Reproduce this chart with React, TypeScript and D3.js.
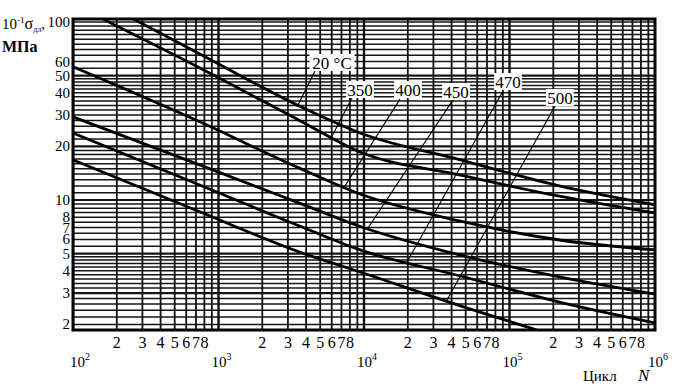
import React from 'react';
import * as d3 from 'd3';

// Curves: N (cycles) and 10^-1 * sigma (MPa)
const n20 = [260, 750, 3600, 9400, 46000, 220000, 1000000];
const s20 = [104, 66, 33.7, 23.8, 16.8, 12.0, 9.4];
const n350 = [160, 750, 3600, 9400, 46000, 220000, 1000000];
const s350 = [104, 55, 28, 18.6, 13.8, 10.5, 8.45];
const n400 = [100, 750, 3600, 9400, 46000, 220000, 1000000];
const s400 = [56, 27.4, 15.1, 10.8, 7.6, 5.96, 5.24];
const n450 = [100, 750, 3600, 9400, 46000, 220000, 1000000];
const s450 = [29.3, 15.7, 9.6, 7.1, 4.9, 3.7, 2.96];
const n470 = [100, 750, 3600, 9400, 46000, 220000, 1000000];
const s470 = [23.8, 12.1, 7.14, 5.24, 3.74, 2.67, 2.04];
const n500 = [100, 750, 3600, 9400, 46000, 155000];
const s500 = [16.8, 8.56, 5.1, 3.94, 2.54, 1.86];

const labels = ['20 °C', '350', '400', '450', '470', '500'];
const labelN = [6030, 9390, 20070, 42900, 97600, 222000];
const labelS = [58.9, 41.5, 41.5, 40.4, 46.0, 37.4];
const leadFromN = [4606, 8270, 17680, 40900, 90220, 205400];
const leadFromS = [53.0, 37.4, 36.9, 36.5, 41.0, 33.7];
const leadToN = [3463, 5840, 7404, 10650, 19750, 37190];
const leadToS = [33.3, 21.7, 12.0, 6.96, 4.48, 2.74];

const yTicks = [2, 3, 4, 5, 6, 7, 8, 10, 20, 30, 40, 50, 60, 100];
const xDecades = [100, 1000, 10000, 100000, 1000000];
const xDecadeExp = ['2', '3', '4', '5', '6'];
const xMinorDigits = [2, 3, 4, 5, 6, 7, 8];

const L = 73, R = 655, T = 19, B = 330;
const SERIF = "'Liberation Serif', 'Times New Roman', Tinos, 'DejaVu Serif', serif";

export default function App() {
  const x = d3.scaleLog().domain([100, 1000000]).range([L, R]);
  const y = d3.scaleLog().domain([1.86, 104]).range([B, T]);

  const hGrid = [
    ...d3.range(2, 5, 0.2),
    ...d3.range(5, 10, 0.5),
    ...d3.range(10, 20, 1),
    ...d3.range(20, 50, 2),
    ...d3.range(50, 100.01, 5),
  ];
  const vGrid: number[] = [];
  xDecades.slice(0, 4).forEach((d) => {
    for (let k = 1; k <= 9; k++) vGrid.push(k * d);
  });

  const series = [
    [n20, s20], [n350, s350], [n400, s400], [n450, s450], [n470, s470], [n500, s500],
  ];
  const line = d3
    .line<[number, number]>()
    .x((d) => x(d[0]))
    .y((d) => y(d[1]))
    .curve(d3.curveMonotoneX);

  const ts = { fontFamily: SERIF };

  return (
    <svg
      width={680}
      height={392}
      style={{ position: 'absolute', left: 0, top: 0, background: '#fff', fontFamily: SERIF }}
    >
      <defs>
        <clipPath id="plot">
          <rect x={L} y={T} width={R - L} height={B - T} />
        </clipPath>
      </defs>
      <g clipPath="url(#plot)">
        {hGrid.map((v, i) => (
          <line key={'h' + i} x1={L} x2={R} y1={y(v)} y2={y(v)} stroke="#151515"
            strokeWidth={[10, 20, 50, 5, 3].includes(Math.round(v * 10) / 10) ? 2.2 : 1.5} />
        ))}
        {vGrid.map((v, i) => (
          <line key={'v' + i} x1={x(v)} x2={x(v)} y1={T} y2={B} stroke="#111"
            strokeWidth={i % 9 === 0 ? 2.4 : 1.8} />
        ))}
        {series.map(([ns, ss], i) => (
          <path key={'c' + i}
            d={line(ns.map((n, j) => [n, ss[j]] as [number, number])) || ''}
            fill="none" stroke="#000" strokeWidth={2.8} />
        ))}
        {labels.map((_, i) => (
          <line key={'l' + i} x1={x(leadFromN[i])} y1={y(leadFromS[i])}
            x2={x(leadToN[i])} y2={y(leadToS[i])} stroke="#000" strokeWidth={1.1} />
        ))}
      </g>
      <rect x={L} y={T} width={R - L} height={B - T} fill="none" stroke="#000" strokeWidth={3} />

      {labels.map((t, i) => {
        const w = t.length * 8.6 + 2;
        const cx = x(labelN[i]);
        const cy = y(labelS[i]);
        return (
          <g key={'t' + i}>
            <rect x={cx - w / 2} y={cy - 9} width={w} height={17} fill="#fff" />
            <text x={cx} y={cy + 6} textAnchor="middle" fontSize={17} fill="#000" style={ts}>{t}</text>
          </g>
        );
      })}

      {yTicks.map((v) => (
        <text key={'y' + v} x={70} y={y(v) + 5} textAnchor="end" fontSize={15} fill="#000" style={ts}>{v}</text>
      ))}

      {xDecades.slice(0, 4).map((d) =>
        xMinorDigits.map((k) => (
          <text key={'x' + d + k} x={x(k * d)} y={348} textAnchor="middle" fontSize={16} fill="#000" style={ts}>{k}</text>
        ))
      )}
      {xDecades.map((d, i) => {
        const sx = Math.max(70, x(d) - 7);
        return (
          <text key={'e' + d} x={sx} y={367} fontSize={15} fill="#000" style={ts}>
            10<tspan dy={-7} fontSize={10}>{xDecadeExp[i]}</tspan>
          </text>
        );
      })}

      <text x={2} y={29} fontSize={15} fill="#000" style={ts}>
        10<tspan dy={-6} fontSize={9}>-1</tspan>
        <tspan dy={6} fontSize={16}>σ</tspan>
        <tspan dy={3} fontSize={8}>дл</tspan>
        <tspan dy={-3} fontSize={15}>,</tspan>
      </text>
      <text x={2} y={52} fontSize={16} fontWeight="bold" fill="#000" style={ts}>МПа</text>

      <text x={583} y={381} fontSize={15} fill="#000" style={ts}>Цикл</text>
      <text x={638} y={381} fontSize={17} fontStyle="italic" fill="#000" style={ts}>N</text>
    </svg>
  );
}
